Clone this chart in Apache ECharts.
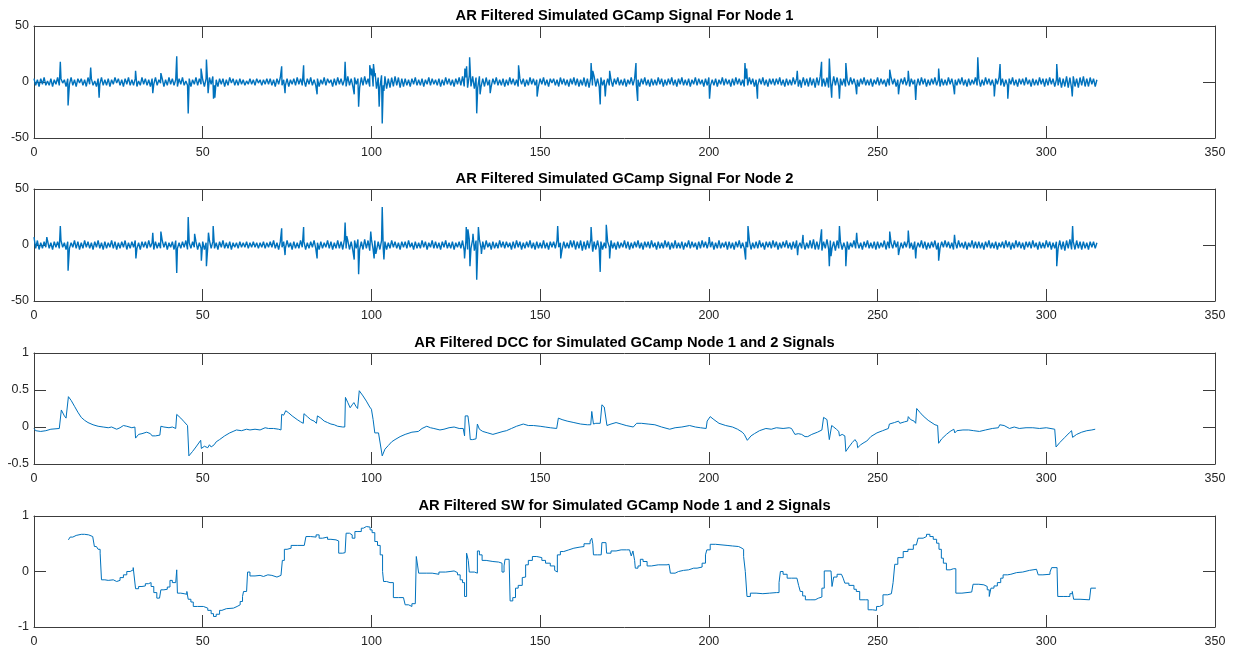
<!DOCTYPE html>
<html>
<head>
<meta charset="utf-8">
<script src="https://cdn.jsdelivr.net/npm/echarts@6/dist/echarts.min.js"></script>
<style>html,body{margin:0;padding:0;background:#fff;}#c{width:1236px;height:649px;}</style>
</head>
<body>
<div id="c"></div>
<script>
// ---- data ----
const titles = [
  'AR Filtered Simulated GCamp Signal For Node 1',
  'AR Filtered Simulated GCamp Signal For Node 2',
  'AR Filtered DCC for Simulated GCamp Node 1 and 2 Signals',
  'AR Filtered SW for Simulated GCamp Node 1 and 2 Signals'
];
const xTicks = [0, 50, 100, 150, 200, 250, 300, 350];
const yRanges = [[-50, 50, 50], [-50, 50, 50], [-0.5, 1, 0.5], [-1, 1, 1]];

// baseline noise, node 1: one row per 10 s, samples every 0.5 s
const node1Noise = [
[3,-3,2,-4,3,-2,4,-3,1,-3,3,-4,2,-2,4,-3,3,-1,2,-4],
[3,-2,4,-3,2,-4,3,-1,3,-3,2,-4,4,-2,3,-3,1,-4,3,-2],
[4,-3,2,-3,3,-4,2,-2,4,-1,3,-3,2,-4,3,-2,4,-3,2,-3],
[3,-4,1,-3,4,-2,3,-3,2,-4,3,-2,4,-3,2,-1,3,-4,2,-3],
[4,-2,3,-3,2,-4,3,-2,4,-3,1,-3,3,-4,2,-2,4,-3,3,-2],
[2,-4,3,-3,4,-2,5,-3,2,-4,3,-2,3,-4,2,-3,4,-1,3,-3],
[2,-3,3,-2,2,-3,1,-2,3,-2,2,-3,3,-1,2,-3,2,-2,3,-2],
[3,-3,2,-4,3,-2,4,-3,2,-3,3,-4,2,-2,3,-3,4,-2,3,-3],
[2,-4,3,-2,4,-3,2,-3,3,-4,2,-2,4,-3,3,-1,2,-4,3,-3],
[4,-2,3,-3,2,-4,5,-3,3,-4,4,-2,3,-5,4,-3,5,-2,3,-4],
[6,-4,5,-6,4,-5,6,-3,5,-6,3,-5,4,-4,5,-3,4,-5,3,-4],
[3,-3,2,-4,3,-2,4,-3,2,-3,3,-4,2,-2,4,-3,3,-2,2,-3],
[3,-4,2,-3,4,-2,3,-3,2,-4,3,-2,4,-3,5,-4,4,-5,6,-4],
[5,-6,4,-5,5,-4,3,-4,4,-3,2,-4,3,-2,4,-3,2,-3,3,-4],
[2,-3,4,-2,3,-3,2,-4,3,-2,3,-4,2,-3,4,-2,3,-3,2,-4],
[3,-2,4,-3,2,-4,3,-1,3,-3,2,-4,4,-2,3,-3,2,-4,3,-2],
[4,-3,3,-4,2,-3,4,-4,3,-5,4,-3,5,-4,3,-4,4,-3,2,-4],
[3,-3,2,-4,3,-2,4,-3,2,-3,3,-4,2,-2,4,-3,3,-2,2,-4],
[3,-2,4,-3,2,-4,3,-3,2,-3,4,-2,3,-4,2,-3,3,-2,4,-3],
[2,-4,3,-2,4,-3,2,-3,3,-4,2,-2,4,-3,3,-2,2,-4,3,-3],
[4,-3,2,-3,3,-4,2,-2,4,-3,3,-2,2,-4,3,-3,4,-2,3,-3],
[2,-4,3,-3,4,-2,3,-4,2,-3,3,-2,4,-3,2,-4,3,-2,3,-3],
[3,-2,4,-3,2,-4,3,-3,2,-3,4,-2,3,-4,2,-2,4,-3,3,-4],
[4,-3,3,-5,4,-3,5,-4,3,-4,4,-5,3,-4,5,-3,4,-4,3,-3],
[3,-4,2,-3,4,-2,3,-3,2,-4,3,-2,4,-3,2,-3,3,-4,2,-2],
[4,-3,3,-2,2,-4,3,-3,4,-2,3,-4,2,-3,3,-2,4,-3,2,-4],
[3,-2,2,-4,3,-3,4,-2,3,-4,2,-3,3,-2,4,-3,2,-4,3,-3],
[2,-3,4,-2,3,-4,2,-3,3,-2,4,-3,2,-4,3,-3,2,-2,4,-3],
[3,-4,2,-3,4,-2,3,-3,2,-4,3,-2,4,-3,3,-4,2,-3,3,-2],
[4,-3,2,-4,3,-2,3,-3,4,-2,2,-4,3,-3,2,-3,4,-2,3,-4],
[3,-3,4,-2,3,-4,2,-3,4,-5,3,-4,5,-5,4,-6,5,-4,3,-5],
[4,-3,5,-4,3,-4,4,-2,3,-4,2]
];
// spikes, node 1: [time, value]
const node1Spikes = [
[7.8,18],[10.1,-21],[16.8,13],[19.3,-14],[30.1,10],[35.2,-10],[37.6,8],[42.3,23],[45.7,-28],[49.5,12],
[51.1,20],[51.6,-10],[53.2,-15],[53.6,-14],[73.4,14],[74.4,-10],[79.9,15],[83.9,-11],[92.2,18],[94.9,-11],
[96.2,-22],[99.5,15],[100.1,12],[100.6,16],[101.1,8],[102.3,-22],[103.2,-37],[103.7,-8],
[127.7,12],[128.2,14],[129.1,22],[131.2,-28],[132.2,-11],[135.2,-10],[143.6,15],[149.1,-13],[165.1,17],[165.6,10],
[167.8,-20],[169.3,-13],[170.6,10],[178.4,17],[178.9,-17],[200.2,-15],[210.7,17],[211.2,12],[214.4,-15],[226.2,10],[227.4,-5],
[233.4,18],[235.7,21],[236.4,-14],[238.7,-15],[240.6,17],[243.8,-11],[253.6,11],[256.2,-11],[259.1,10],[261.3,-16],
[268.1,12],[272.8,-11],[279.7,22],[284.6,-13],[286.3,16],[288.6,-15],[303.1,16],[307.7,-13]
];

// baseline noise, node 2
const node2Noise = [
[7,-3,4,-4,2,-3,3,-2,4,-3,2,-4,3,-2,3,-3,4,-2,2,-4],
[3,-3,2,-2,4,-3,3,-4,2,-3,4,-2,3,-3,2,-4,3,-2,4,-3],
[2,-4,3,-3,2,-2,4,-3,3,-4,2,-3,3,-2,4,-4,2,-3,3,-2],
[4,-3,2,-4,3,-2,3,-3,4,-2,2,-4,3,-3,2,-3,4,-2,3,-4],
[2,-2,3,-4,4,-3,2,-3,3,-2,4,-4,2,-3,3,-2,3,-4,2,-3],
[3,-4,2,-2,4,-3,3,-3,2,-4,3,-2,4,-3,2,-3,3,-4,2,-2],
[2,-3,3,-2,2,-2,3,-3,2,-2,3,-2,2,-3,2,-2,3,-3,2,-2],
[3,-2,4,-3,2,-4,3,-2,3,-3,4,-2,2,-4,3,-3,2,-3,4,-2],
[3,-4,2,-3,3,-2,4,-3,2,-4,3,-3,2,-2,4,-3,3,-4,2,-3],
[4,-3,3,-4,5,-3,4,-4,3,-5,4,-3,5,-4,3,-4,5,-3,4,-5],
[5,-4,4,-5,3,-4,4,-3,3,-4,2,-3,4,-2,3,-3,2,-4,3,-2],
[3,-3,4,-2,2,-4,3,-3,2,-3,4,-2,3,-4,2,-2,4,-3,3,-3],
[2,-4,3,-2,4,-3,2,-3,3,-4,2,-2,3,-3,4,-5,4,-4,5,-3],
[5,-5,4,-4,5,-3,3,-4,4,-2,2,-4,3,-3,2,-3,4,-2,3,-3],
[3,-2,2,-4,3,-3,4,-2,3,-4,2,-3,3,-2,4,-3,2,-4,3,-3],
[2,-3,4,-3,2,-4,3,-2,3,-3,4,-2,2,-4,3,-3,2,-3,4,-2],
[4,-4,3,-3,4,-5,3,-4,4,-3,5,-4,3,-4,4,-3,3,-4,2,-3],
[3,-2,4,-3,2,-4,3,-3,2,-2,4,-3,3,-4,2,-3,3,-2,4,-3],
[2,-4,3,-2,3,-3,4,-2,2,-4,3,-3,2,-3,4,-2,3,-4,2,-3],
[4,-3,2,-3,3,-4,2,-2,4,-3,3,-2,2,-4,3,-3,4,-2,3,-3],
[3,-2,3,-4,2,-3,4,-3,2,-2,3,-4,3,-3,2,-4,3,-2,4,-3],
[2,-3,3,-2,4,-4,2,-3,3,-3,4,-2,2,-4,3,-2,3,-3,4,-2],
[3,-4,2,-3,3,-2,4,-3,2,-4,3,-3,4,-2,2,-3,3,-4,2,-3],
[4,-3,5,-4,3,-4,4,-5,3,-3,5,-4,4,-3,3,-5,4,-3,3,-4],
[2,-3,3,-4,2,-2,4,-3,3,-3,2,-4,3,-2,4,-3,2,-3,3,-4],
[3,-3,2,-2,4,-4,3,-3,2,-3,4,-2,3,-4,2,-3,3,-2,4,-3],
[2,-4,3,-3,2,-2,4,-3,3,-4,2,-3,3,-2,4,-4,2,-3,3,-2],
[4,-2,3,-3,2,-4,3,-3,4,-2,2,-3,3,-4,2,-2,4,-3,3,-3],
[3,-3,2,-4,3,-2,4,-3,2,-3,3,-4,2,-2,3,-3,4,-2,3,-4],
[2,-3,4,-2,3,-3,2,-4,3,-2,3,-3,4,-2,2,-4,3,-3,2,-3],
[4,-2,3,-4,2,-3,3,-3,4,-4,3,-5,4,-3,5,-4,3,-4,4,-3],
[3,-4,3,-3,2,-4,3,-2,3,-3,2]
];
const node2Spikes = [
[3.8,7],[7.8,17],[10.1,-23],[30.2,-12],[35.2,11],[37.6,12],[42.3,-25],[45.7,25],[47.6,10],[49.6,-14],
[51.1,-19],[51.7,11],[53.1,17],[73.4,15],[74.4,-9],[79.9,16],[83.9,-12],[92.2,20],[92.7,8],[94.9,-13],
[96.2,-26],[99.8,12],[100.8,-12],[101.3,-8],[103.2,34],[103.7,-13],
[127.6,-12],[128.1,16],[128.6,14],[129.2,-19],[130.1,10],[131.2,-31],[131.7,16],[132.6,-8],[155.2,17],[156.1,-12],
[165.1,16],[165.6,-6],[167.8,-24],[169.6,18],[170.6,-12],[200.1,7],[210.9,-13],[211.6,17],[226.3,-9],[227.9,9],
[233.4,14],[235.7,-19],[236.2,-10],[238.7,17],[240.6,-19],[243.8,11],[253.6,12],[256.2,-9],[259.1,13],[261.3,-12],
[268.1,-14],[272.8,9],[303.1,-19],[307.8,17]
];

// DCC: [time, value]
const dccPoints = [
[0,-0.02],[0.5,-0.05],[2,-0.06],[3.5,-0.05],[5,-0.03],[7.5,-0.02],[7.9,-0.02],[8.1,0.23],[9,0.15],[9.5,0.12],
[9.9,0.12],[10.2,0.41],[11,0.36],[12,0.28],[13,0.2],[14,0.13],[15,0.09],[16,0.06],[17.5,0.03],[19,0.01],
[20.5,0],[22,-0.01],[23,0],[24.5,-0.03],[25.5,-0.01],[26.5,0.02],[27.5,0.01],[29,-0.01],[29.9,0],[30.1,-0.15],
[31,-0.1],[32,-0.09],[33.4,-0.07],[34.5,-0.09],[35,-0.12],[36,-0.12],[37.3,-0.11],[37.6,0.01],[38.5,0],[40,-0.01],
[41,0],[42,-0.02],[42.3,0.17],[43.5,0.12],[44.5,0.07],[45.5,0.02],[45.9,-0.39],[47,-0.33],[48,-0.27],[49.4,-0.18],
[49.6,-0.29],[50.5,-0.26],[51,-0.24],[51.5,-0.28],[52,-0.24],[52.5,-0.27],[53.4,-0.24],[54,-0.2],[55,-0.17],[56.5,-0.12],
[58,-0.08],[59,-0.06],[60,-0.04],[61.5,-0.05],[63,-0.03],[64,-0.04],[65.5,-0.03],[67,-0.04],[68.5,-0.01],[69.5,-0.02],
[71,-0.02],[72.5,-0.03],[73.2,-0.04],[73.4,0.17],[74,0.16],[74.6,0.22],[75.5,0.19],[76.5,0.15],[78,0.1],[79,0.07],
[79.8,0.05],[80,0.18],[81,0.14],[82,0.1],[83,0.08],[83.7,0.05],[84,0.15],[85,0.12],[86,0.08],[87,0.06],
[88,0.04],[89,0.03],[90,0.01],[91.5,0],[92.1,0],[92.3,0.4],[93,0.33],[93.7,0.26],[94.3,0.3],[94.8,0.33],
[95.4,0.28],[95.9,0.25],[96.4,0.49],[97.5,0.42],[98.5,0.35],[99.5,0.27],[100,0.24],[100.5,0.1],[101,-0.08],[102.1,-0.08],
[102.3,-0.1],[103.2,-0.39],[104,-0.3],[105,-0.25],[106,-0.2],[107,-0.17],[108.5,-0.13],[110,-0.1],[112,-0.07],[113.9,-0.06],
[115,-0.02],[116.4,0.01],[117.5,-0.01],[118.5,-0.02],[120.3,-0.04],[121.5,-0.03],[123,-0.01],[124.5,0],[126,-0.02],[127.2,-0.02],
[127.6,-0.12],[127.8,0.15],[128.6,0.15],[129,0],[129.3,-0.17],[130,-0.17],[131,-0.16],[131.4,0.04],[132,-0.03],[133,-0.06],
[134.5,-0.08],[136,-0.1],[137.5,-0.08],[139,-0.06],[140,-0.05],[141.5,-0.02],[143,0.01],[145,0.04],[146.5,0.02],[148,0.02],
[150,0.01],[151.5,0],[153,-0.01],[154.9,-0.02],[155.4,0.12],[156.5,0.1],[158,0.08],[160,0.06],[162,0.04],[164,0.03],
[165,0.03],[165.3,0.21],[165.8,0.04],[166.5,0.05],[167.8,0.05],[168.3,0.3],[169,0.27],[169.5,0.25],[169.8,0.02],[171,0.04],
[172.5,0.06],[174,0.04],[175.5,0.02],[177.6,0],[178.1,0],[178.6,0.05],[180,0.05],[182,0.04],[184,0.03],[186,0],
[188.4,-0.03],[190,-0.01],[192,0],[194.3,0.02],[196,0],[197.5,-0.01],[199.2,-0.02],[199.5,0.08],[200.4,0.14],[201.5,0.1],
[203,0.05],[205,0.02],[207,0],[208.5,-0.03],[209.9,-0.07],[210.5,-0.1],[211.4,-0.18],[212.5,-0.12],[213.5,-0.09],[215,-0.05],
[216.9,-0.02],[218.5,-0.03],[220,-0.01],[222,-0.02],[223.8,-0.01],[224.5,-0.02],[225.5,-0.1],[226.5,-0.09],[227.5,-0.1],[228.5,-0.13],
[229.3,-0.13],[230.5,-0.1],[232.2,-0.07],[233.5,-0.04],[234,0.13],[235,0.1],[235.5,0.08],[235.7,-0.17],[236.2,-0.17],[236.4,0.02],
[237,0],[237.8,-0.03],[238.5,-0.06],[238.7,-0.12],[239.5,-0.1],[240.3,-0.12],[240.6,-0.33],[241.5,-0.27],[242.5,-0.21],[243.3,-0.17],
[243.9,-0.21],[244.1,-0.28],[245,-0.24],[246,-0.21],[246.8,-0.19],[248,-0.13],[249.8,-0.08],[251.5,-0.05],[253.2,-0.02],[253.5,0.04],
[255,0.06],[256.2,0.08],[256.6,0.05],[258,0.07],[258.9,0.08],[259.1,0.14],[259.8,0.1],[260.8,0.08],[261.3,0.05],[261.6,0.25],
[262.5,0.2],[263.5,0.15],[265,0.09],[267,0.03],[267.8,0.02],[268.1,-0.22],[269,-0.16],[270.4,-0.1],[271.5,-0.06],[272.6,-0.03],
[272.9,-0.08],[273.5,-0.05],[275.3,-0.04],[277,-0.04],[278.5,-0.05],[280.2,-0.06],[282,-0.04],[284,-0.02],[285.8,-0.01],[286.2,0.03],
[287.5,0.02],[289.1,-0.02],[290.5,0],[292,-0.02],[294,-0.01],[296,-0.01],[298,-0.02],[300,-0.01],[302.5,-0.03],[302.9,-0.27],
[304,-0.21],[305.5,-0.14],[306.8,-0.08],[307.5,-0.05],[307.8,-0.14],[309,-0.1],[310.5,-0.07],[312,-0.05],[313.5,-0.04],[314.5,-0.03]
];

// SW: [time, value]
const swPoints = [
[10.2,0.57],[10.7,0.62],[11.5,0.65],[12.5,0.67],[14,0.67],[15,0.66],[16.2,0.66],[16.6,0.63],[17.4,0.6],[17.9,0.45],
[18.5,0.44],[19,0.4],[19.6,0.33],[20,-0.15],[21,-0.16],[22,-0.15],[23.5,-0.18],[24.5,-0.16],[25.5,-0.11],[26.5,-0.06],
[27.5,0],[28.5,0.03],[29.4,0.07],[29.9,0.07],[30.1,-0.31],[31,-0.27],[32,-0.26],[33,-0.22],[33.9,-0.2],[34.7,-0.27],
[35.5,-0.38],[36.4,-0.48],[37.2,-0.46],[37.6,-0.33],[38.5,-0.32],[39.5,-0.28],[40.3,-0.16],[41,-0.2],[42,-0.22],[42.3,0.03],
[42.5,-0.39],[43.5,-0.4],[44.5,-0.41],[45.3,-0.36],[45.7,-0.5],[46.5,-0.55],[47.2,-0.63],[48.5,-0.63],[50.2,-0.66],[51.5,-0.7],
[52.5,-0.76],[53.2,-0.81],[54,-0.77],[55,-0.7],[55.7,-0.67],[57,-0.66],[59.1,-0.63],[60.2,-0.6],[61.1,-0.54],[61.8,-0.45],
[62.1,-0.36],[63,-0.35],[63.3,-0.01],[64,-0.08],[65.5,-0.07],[67,-0.09],[68,-0.06],[69.3,-0.07],[70.5,-0.1],[72,-0.07],
[73.2,-0.08],[73.6,0.2],[74.2,0.4],[75,0.42],[76.2,0.47],[78,0.47],[80.1,0.49],[80.6,0.63],[82,0.62],[83.6,0.66],
[84.5,0.6],[85.5,0.62],[87,0.58],[88,0.57],[89.5,0.55],[90.3,0.33],[91.5,0.34],[92.2,0.36],[92.5,0.69],[93.5,0.66],
[94.3,0.6],[95.1,0.72],[96,0.72],[97,0.78],[97.6,0.81],[98.5,0.8],[99.6,0.75],[100.2,0.7],[101,0.54],[101.8,0.47],
[102.6,0.3],[103.3,0],[103.6,-0.18],[104.5,-0.2],[105.5,-0.2],[106.5,-0.47],[108,-0.47],[109.5,-0.48],[110,-0.6],[111,-0.63],
[112,-0.58],[113,-0.57],[113.3,0.27],[113.7,0.1],[114,-0.03],[116.4,-0.03],[118,-0.05],[120,-0.01],[122,0],[123.3,0.01],
[124.5,-0.02],[125.5,-0.06],[126.3,-0.15],[127,-0.2],[127.6,-0.45],[128.2,0.33],[128.7,0.2],[129,-0.01],[130.5,-0.03],[131.4,0.37],
[132,0.3],[132.8,0.2],[134,0.18],[136,0.17],[137.7,0.15],[138.1,0.15],[138.7,-0.01],[139.3,0.1],[139.6,0.22],[140.8,0.22],
[141.1,-0.53],[141.9,-0.47],[142.7,-0.3],[143.5,-0.25],[144.7,-0.11],[145.2,-0.1],[145.7,0.12],[146.5,0.2],[147.7,0.27],[149,0.25],
[150.5,0.2],[151.6,0.15],[153,0.1],[154.3,0.02],[154.6,-0.01],[155.1,0.3],[156,0.36],[157,0.39],[158.5,0.42],[160,0.44],
[161.8,0.45],[163,0.5],[164.8,0.55],[165.3,0.6],[165.6,0.5],[165.8,0.3],[167,0.3],[168.1,0.3],[168.3,0.52],[169.5,0.52],
[169.7,0.33],[171,0.37],[172.5,0.39],[174,0.39],[175.6,0.39],[176.5,0.38],[177,0.28],[177.5,0.37],[178,0.2],[178.2,0.06],
[179,0.1],[179.7,0.22],[180.5,0.18],[181.7,0.1],[183,0.12],[185,0.12],[187.6,0.13],[188.2,0.1],[188.6,-0.03],[190,0],
[191,0.02],[192.5,0.03],[194,0.06],[195.5,0.06],[196.5,0.08],[198,0.15],[199,0.3],[199.4,0.39],[200.4,0.49],[202,0.47],
[205.4,0.46],[207,0.45],[208.8,0.43],[209.5,0.4],[210.3,0.27],[210.8,0],[211.3,-0.45],[212.3,-0.39],[214,-0.4],[216,-0.39],
[218,-0.38],[220,-0.38],[220.8,-0.2],[221.2,0],[222,-0.05],[223.2,-0.12],[224.5,-0.12],[226.1,-0.15],[226.6,-0.25],[227.1,-0.36],
[227.8,-0.44],[228.6,-0.51],[230,-0.51],[231.5,-0.48],[232.5,-0.46],[233.5,-0.3],[234.2,0.01],[236.2,0.01],[236.5,-0.27],[237,-0.1],
[238,-0.05],[239.3,-0.03],[239.8,-0.12],[240.3,-0.21],[241.5,-0.25],[243,-0.32],[243.7,-0.36],[244.7,-0.51],[246.5,-0.51],[247.2,-0.69],
[248.5,-0.7],[249.7,-0.63],[250.6,-0.6],[251.6,-0.42],[253,-0.4],[254.1,-0.39],[254.6,-0.2],[255.1,0.13],[256,0.25],[257.6,0.36],
[259,0.4],[260.6,0.48],[261.5,0.5],[262,0.6],[263.5,0.63],[264.5,0.67],[265.5,0.63],[266.5,0.58],[267.5,0.51],[268.2,0.4],
[268.9,0.24],[269.5,0.15],[270.4,0.03],[271.5,0.05],[272.5,0.05],[273.2,-0.39],[275,-0.37],[277.9,-0.36],[278.3,-0.23],[280,-0.24],
[281.5,-0.27],[282.5,-0.33],[283.1,-0.45],[283.6,-0.3],[284.5,-0.26],[285.5,-0.2],[286.5,-0.12],[287.2,-0.06],[288.5,-0.05],[289.5,-0.02],
[291.2,-0.01],[293,0.02],[295,0.04],[297.1,0.07],[297.6,-0.06],[299,-0.05],[301.1,-0.01],[301.6,0.07],[303.2,0.03],[303.4,-0.45],
[305,-0.45],[306.2,-0.45],[307,-0.4],[307.7,-0.36],[308.1,-0.5],[310,-0.51],[312.8,-0.52],[313.2,-0.3],[314.7,-0.3]
];

// ---- build: baseline samples every 0.5 s plus spike samples merged in time order ----
function buildSignal(rows, spikes) {
  const out = [];
  rows.forEach((row, r) => row.forEach((v, j) => out.push([r * 10 + j * 0.5, v])));
  spikes.forEach(s => out.push([s[0], s[1]]));
  out.sort((a, b) => a[0] - b[0]);
  return out;
}

const FONT = '"Liberation Sans", Arial, Helvetica, sans-serif';
const BOX = '#3c3c3c';
const TXT = '#262626';
const LINE = '#0072BD';
const gridTops = [26, 189, 353, 516];
const gridHeights = [112, 112, 111, 111];
const LEFT = 34, RIGHT = 21;

const grid = [], xAxis = [], yAxis = [], title = [];
gridTops.forEach((top, i) => {
  grid.push({left: LEFT, right: RIGHT, top: top, height: gridHeights[i], show: false, containLabel: false});
  title.push({
    text: titles[i], left: 624.5, top: top - 10.5, padding: 0,
    textAlign: 'center', textVerticalAlign: 'middle',
    textStyle: {fontFamily: FONT, fontSize: 14.7, fontWeight: 'bold', color: '#000'}
  });
  const xBase = {
    gridIndex: i, type: 'value', min: xTicks[0], max: xTicks[xTicks.length - 1],
    interval: xTicks[1] - xTicks[0],
    axisLine: {show: true, onZero: false, lineStyle: {color: BOX, width: 1}},
    axisTick: {show: true, inside: true, length: 12, lineStyle: {color: BOX, width: 1}},
    splitLine: {show: false}
  };
  xAxis.push(Object.assign({}, xBase, {
    position: 'bottom',
    axisLabel: {show: true, margin: 8, showMinLabel: true, showMaxLabel: true,
      fontFamily: FONT, fontSize: 12.5, color: TXT}
  }));
  xAxis.push(Object.assign({}, xBase, {position: 'top', axisLabel: {show: false}}));
  const [ymin, ymax, yint] = yRanges[i];
  const yBase = {
    gridIndex: i, type: 'value', min: ymin, max: ymax, interval: yint,
    axisLine: {show: true, onZero: false, lineStyle: {color: BOX, width: 1}},
    axisTick: {show: true, inside: true, length: 12, lineStyle: {color: BOX, width: 1}},
    splitLine: {show: false}
  };
  yAxis.push(Object.assign({}, yBase, {
    position: 'left',
    axisLabel: {show: true, margin: 5, showMinLabel: true, showMaxLabel: true, padding: [3, 0, 0, 0],
      fontFamily: FONT, fontSize: 12.5, color: TXT}
  }));
  yAxis.push(Object.assign({}, yBase, {position: 'right', axisLabel: {show: false}}));
});

const seriesData = [
  buildSignal(node1Noise, node1Spikes),
  buildSignal(node2Noise, node2Spikes),
  dccPoints,
  swPoints
];
const lineWidths = [1.4, 1.4, 1, 1];
const series = seriesData.map((d, i) => ({
  type: 'line', xAxisIndex: i * 2, yAxisIndex: i * 2, data: d,
  showSymbol: false, symbol: 'none', step: i === 3 ? 'end' : false,
  lineStyle: {color: LINE, width: lineWidths[i]}, silent: true, clip: true
}));

const chart = echarts.init(document.getElementById('c'), null, {renderer: 'canvas'});
chart.setOption({
  animation: false, backgroundColor: '#fff',
  title: title, grid: grid, xAxis: xAxis, yAxis: yAxis, series: series
});
</script>
</body>
</html>
